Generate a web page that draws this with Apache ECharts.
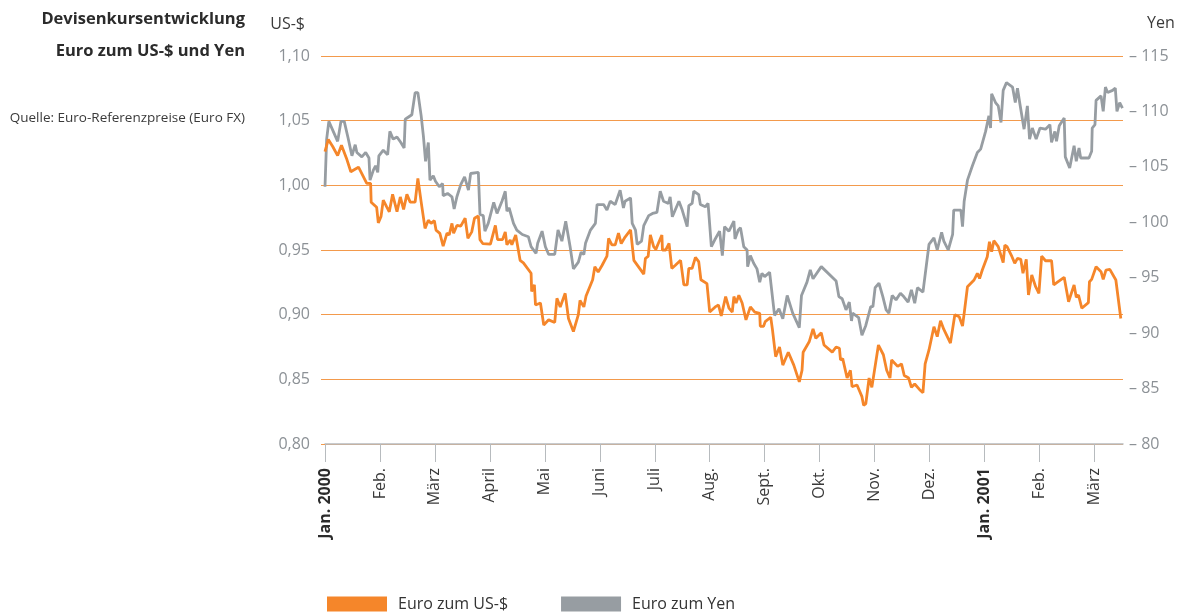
<!DOCTYPE html>
<html style="height: 100%">
<head>
<meta charset="utf-8">
<script src="https://cdn.jsdelivr.net/npm/echarts@6/dist/echarts.min.js"></script>
</head>
<body style="height: 100%; margin: 0; background: #fff;">
<div id="container" style="width: 1187px; height: 614px;"></div>
<script type="text/javascript">
// months since 1 Jan 2000 -> rate
var monthLabels = ['Jan. 2000', 'Feb.', 'März', 'April', 'Mai', 'Juni', 'Juli', 'Aug.', 'Sept.', 'Okt.', 'Nov.', 'Dez.', 'Jan. 2001', 'Feb.', 'März'];
var monthTicks = [0, 1, 2, 3, 4, 5, 6, 7, 8, 9, 10, 11, 12, 13, 14];
var usdTicks = [0.80, 0.85, 0.90, 0.95, 1.00, 1.05, 1.10];
var yenTicks = [80, 85, 90, 95, 100, 105, 110, 115];

var usdPoints = [
    [0.00, 1.026], [0.06, 1.0355], [0.14, 1.030], [0.23, 1.023], [0.30, 1.031], [0.39, 1.021], [0.47, 1.0105],
    [0.53, 1.012], [0.61, 1.014], [0.67, 1.009], [0.76, 1.0015], [0.83, 1.0015], [0.84, 0.987], [0.94, 0.983],
    [0.97, 0.971], [1.02, 0.976], [1.06, 0.9886], [1.12, 0.9835], [1.17, 0.9796], [1.23, 0.993], [1.31, 0.9796],
    [1.37, 0.991], [1.43, 0.9814], [1.49, 0.993], [1.55, 0.987], [1.64, 0.987], [1.69, 1.0054], [1.75, 0.987],
    [1.82, 0.9667], [1.88, 0.973], [1.93, 0.9706], [1.99, 0.9727], [2.02, 0.9654], [2.09, 0.9629], [2.15, 0.953],
    [2.22, 0.963], [2.26, 0.9616], [2.31, 0.9706], [2.34, 0.9629], [2.40, 0.969], [2.47, 0.9685], [2.55, 0.9745],
    [2.60, 0.959], [2.67, 0.964], [2.72, 0.9745], [2.79, 0.9763], [2.82, 0.958], [2.87, 0.955], [3.01, 0.9546],
    [3.10, 0.969], [3.14, 0.958], [3.23, 0.958], [3.28, 0.964], [3.31, 0.954], [3.37, 0.9577], [3.40, 0.954],
    [3.47, 0.9616], [3.55, 0.942], [3.61, 0.940], [3.75, 0.932], [3.76, 0.918], [3.81, 0.923], [3.83, 0.9075],
    [3.92, 0.909], [3.98, 0.892], [4.07, 0.896], [4.18, 0.894], [4.22, 0.9126], [4.28, 0.906], [4.37, 0.9165],
    [4.43, 0.897], [4.52, 0.887], [4.61, 0.900], [4.64, 0.911], [4.71, 0.906], [4.75, 0.9144], [4.87, 0.927],
    [4.91, 0.937], [4.97, 0.933], [5.04, 0.938], [5.13, 0.9453], [5.16, 0.959], [5.22, 0.954], [5.28, 0.954],
    [5.34, 0.963], [5.39, 0.955], [5.46, 0.960], [5.56, 0.9655], [5.62, 0.942], [5.80, 0.9314], [5.83, 0.9435],
    [5.88, 0.945], [5.92, 0.9616], [5.98, 0.9526], [6.02, 0.9505], [6.07, 0.9556], [6.13, 0.9616], [6.14, 0.950],
    [6.20, 0.950], [6.26, 0.9551], [6.31, 0.9358], [6.37, 0.938], [6.47, 0.942], [6.53, 0.923], [6.59, 0.923],
    [6.62, 0.9358], [6.68, 0.9358], [6.74, 0.9443], [6.80, 0.941], [6.84, 0.927], [6.95, 0.924], [7.00, 0.902],
    [7.10, 0.906], [7.16, 0.9075], [7.21, 0.899], [7.29, 0.914], [7.35, 0.905], [7.41, 0.902], [7.44, 0.914],
    [7.48, 0.909], [7.53, 0.915], [7.59, 0.909], [7.66, 0.896], [7.74, 0.906], [7.82, 0.902], [7.91, 0.901],
    [7.92, 0.891], [7.98, 0.891], [8.01, 0.8946], [8.11, 0.898], [8.14, 0.889], [8.20, 0.8675], [8.27, 0.875],
    [8.33, 0.861], [8.43, 0.871], [8.53, 0.861], [8.63, 0.848], [8.68, 0.857], [8.70, 0.871], [8.81, 0.879],
    [8.88, 0.889], [8.93, 0.8817], [9.03, 0.886], [9.08, 0.8765], [9.23, 0.871], [9.30, 0.875], [9.36, 0.874],
    [9.38, 0.865], [9.42, 0.866], [9.50, 0.851], [9.56, 0.857], [9.59, 0.8443], [9.68, 0.8456], [9.77, 0.8366],
    [9.80, 0.830], [9.84, 0.831], [9.90, 0.851], [9.95, 0.8438], [10.07, 0.8765], [10.16, 0.869], [10.22, 0.857],
    [10.28, 0.851], [10.31, 0.865], [10.42, 0.860], [10.49, 0.862], [10.54, 0.853], [10.62, 0.851], [10.67, 0.8438],
    [10.73, 0.8464], [10.82, 0.842], [10.88, 0.8397], [10.92, 0.862], [10.99, 0.8727], [11.08, 0.8907],
    [11.14, 0.883], [11.20, 0.8953], [11.26, 0.8886], [11.38, 0.878], [11.46, 0.900], [11.54, 0.8984],
    [11.60, 0.8912], [11.63, 0.901], [11.69, 0.9216], [11.81, 0.9268], [11.87, 0.932], [11.91, 0.928],
    [11.96, 0.9345], [12.05, 0.9448], [12.09, 0.9564], [12.13, 0.9487], [12.17, 0.9572], [12.25, 0.9526],
    [12.34, 0.9402], [12.37, 0.9538], [12.41, 0.9526], [12.50, 0.9448], [12.55, 0.9397], [12.60, 0.9435],
    [12.66, 0.9428], [12.70, 0.932], [12.76, 0.9428], [12.80, 0.9152], [12.86, 0.9307], [12.93, 0.9216],
    [12.99, 0.9165], [13.04, 0.9453], [13.11, 0.9417], [13.22, 0.9417], [13.26, 0.923], [13.34, 0.9255],
    [13.45, 0.9289], [13.53, 0.910], [13.63, 0.923], [13.67, 0.9134], [13.71, 0.9152], [13.77, 0.905],
    [13.89, 0.9093], [13.91, 0.9255], [13.95, 0.9273], [14.03, 0.937], [14.12, 0.9332], [14.16, 0.9273],
    [14.21, 0.9345], [14.28, 0.935], [14.39, 0.9268], [14.48, 0.897]
];

var yenPoints = [
    [0.00, 103.2], [0.03, 107.5], [0.07, 109.1], [0.15, 108.2], [0.23, 107.3], [0.29, 109.1], [0.35, 109.1],
    [0.42, 107.6], [0.49, 106.0], [0.55, 107.0], [0.58, 106.3], [0.67, 105.9], [0.74, 106.3], [0.80, 105.8],
    [0.82, 103.8], [0.88, 104.7], [0.92, 105.1], [0.96, 104.5], [0.98, 106.0], [1.06, 106.5], [1.14, 106.1],
    [1.18, 108.2], [1.24, 107.5], [1.31, 107.7], [1.38, 107.2], [1.44, 106.7], [1.46, 109.3], [1.52, 109.5],
    [1.58, 109.7], [1.64, 111.7], [1.69, 111.7], [1.75, 109.6], [1.79, 107.8], [1.83, 105.5], [1.88, 107.2],
    [1.91, 103.8], [1.97, 104.2], [2.01, 103.7], [2.08, 103.2], [2.14, 103.5], [2.15, 102.4], [2.23, 102.6],
    [2.31, 102.3], [2.35, 101.2], [2.40, 102.3], [2.47, 103.4], [2.54, 104.1], [2.61, 102.9], [2.65, 104.4],
    [2.79, 104.5], [2.82, 100.7], [2.88, 100.6], [2.91, 99.2], [2.97, 99.9], [3.07, 101.8], [3.13, 100.8],
    [3.22, 101.9], [3.28, 102.8], [3.31, 101.0], [3.35, 101.3], [3.43, 99.9], [3.49, 99.3], [3.59, 98.9],
    [3.70, 98.7], [3.75, 97.8], [3.84, 97.2], [3.87, 98.1], [3.95, 99.2], [4.01, 97.8], [4.07, 97.1],
    [4.18, 97.1], [4.24, 99.3], [4.31, 98.3], [4.38, 100.1], [4.46, 97.8], [4.52, 95.8], [4.61, 96.4],
    [4.66, 97.3], [4.71, 97.1], [4.74, 98.1], [4.83, 99.3], [4.92, 99.9], [4.95, 101.6], [5.07, 101.6],
    [5.13, 101.1], [5.19, 101.9], [5.28, 101.6], [5.37, 102.9], [5.43, 101.3], [5.46, 101.9], [5.56, 102.2],
    [5.59, 99.9], [5.65, 99.3], [5.68, 98.0], [5.76, 98.3], [5.80, 99.7], [5.89, 100.6], [5.96, 100.8],
    [6.04, 100.9], [6.10, 102.8], [6.16, 101.9], [6.25, 101.7], [6.28, 102.3], [6.32, 100.5], [6.44, 101.9],
    [6.50, 101.1], [6.59, 99.6], [6.62, 101.5], [6.68, 101.7], [6.71, 102.8], [6.80, 102.5], [6.83, 101.6],
    [6.92, 101.4], [6.97, 101.7], [7.03, 97.8], [7.09, 98.4], [7.18, 99.2], [7.23, 97.0], [7.27, 99.6],
    [7.35, 99.2], [7.44, 100.1], [7.46, 98.5], [7.52, 99.3], [7.56, 99.5], [7.62, 97.8], [7.68, 97.5],
    [7.69, 96.0], [7.74, 97.0], [7.80, 96.3], [7.86, 95.8], [7.91, 94.6], [7.95, 95.4], [8.00, 95.1],
    [8.09, 95.5], [8.18, 91.6], [8.26, 92.2], [8.33, 91.3], [8.41, 93.4], [8.51, 91.8], [8.63, 90.5],
    [8.67, 93.4], [8.77, 94.6], [8.83, 95.7], [8.88, 94.9], [9.03, 96.0], [9.30, 94.7], [9.35, 93.3],
    [9.41, 93.1], [9.48, 92.1], [9.54, 92.8], [9.58, 91.1], [9.60, 91.8], [9.71, 91.4], [9.77, 89.8],
    [9.84, 90.7], [9.93, 92.4], [9.97, 92.4], [10.01, 94.1], [10.08, 94.5], [10.15, 93.3], [10.21, 92.1],
    [10.26, 91.8], [10.32, 93.4], [10.39, 93.0], [10.47, 93.6], [10.53, 93.3], [10.61, 92.8], [10.67, 93.9],
    [10.73, 92.7], [10.78, 94.1], [10.88, 93.7], [10.99, 98.0], [11.08, 98.6], [11.14, 97.5], [11.22, 99.1],
    [11.26, 98.3], [11.34, 97.5], [11.42, 98.9], [11.44, 101.1], [11.57, 101.1], [11.60, 99.6], [11.63, 101.9],
    [11.69, 103.8], [11.78, 105.1], [11.87, 106.3], [11.93, 106.6], [12.02, 108.2], [12.08, 109.6],
    [12.11, 108.5], [12.13, 111.6], [12.20, 110.8], [12.25, 110.5], [12.30, 109.0], [12.34, 111.9],
    [12.40, 112.6], [12.51, 112.2], [12.56, 110.8], [12.60, 112.1], [12.64, 110.8], [12.72, 108.4],
    [12.78, 110.5], [12.82, 107.5], [12.87, 108.5], [12.94, 107.5], [13.01, 108.5], [13.11, 108.4],
    [13.19, 108.8], [13.22, 107.2], [13.28, 108.2], [13.31, 107.3], [13.36, 108.7], [13.45, 109.4],
    [13.47, 105.9], [13.55, 104.9], [13.63, 106.9], [13.67, 105.5], [13.72, 106.7], [13.75, 105.8],
    [13.90, 105.8], [13.95, 106.4], [13.96, 108.5], [14.01, 108.8], [14.03, 111.0], [14.12, 111.4],
    [14.16, 110.0], [14.20, 112.2], [14.24, 111.7], [14.33, 111.9], [14.38, 112.1], [14.41, 110.0],
    [14.46, 110.8], [14.51, 110.3]
];

var FONT = '"Open Sans", "Noto Sans", sans-serif';
var ORANGE = '#f5862a';
var GREY = '#979da2';

var myChart = echarts.init(document.getElementById('container'), null, {renderer: 'canvas'});

var option = {
    animation: false,
    textStyle: {fontFamily: FONT},
    grid: {left: 325, right: 64, top: 56, bottom: 170},
    graphic: [
        {type: 'text', right: 942, top: 11, style: {text: 'Devisenkursentwicklung', font: 'bold 16.5px ' + FONT, fill: '#2b2b2b', textAlign: 'right'}},
        {type: 'text', right: 942, top: 43, style: {text: 'Euro zum US-$ und Yen', font: 'bold 16.5px ' + FONT, fill: '#2b2b2b', textAlign: 'right'}},
        {type: 'text', right: 942, top: 111, style: {text: 'Quelle: Euro-Referenzpreise (Euro FX)', font: '13.5px ' + FONT, fill: '#3a3a3a', textAlign: 'right'}}
    ],
    legend: {
        left: 327, top: 596, padding: 0,
        icon: 'rect', itemWidth: 60, itemHeight: 15, itemGap: 53,
        textStyle: {fontSize: 16, color: '#333', fontFamily: FONT, padding: [0, 0, 0, 6]},
        data: ['Euro zum US-$', 'Euro zum Yen']
    },
    xAxis: {
        type: 'value',
        min: 0, max: 14.52,
        interval: 1,
        splitLine: {show: false},
        axisLine: {lineStyle: {color: '#b7bbbe', width: 1.5}},
        axisTick: {show: true, length: 18, customValues: monthTicks, lineStyle: {color: '#b7bbbe', width: 1}},
        axisLabel: {
            customValues: monthTicks,
            rotate: 90,
            margin: 24,
            fontSize: 16,
            color: '#3a3a3a',
            formatter: function (v) {
                var s = monthLabels[Math.round(v)];
                if (s && s.indexOf('Jan.') === 0) return '{b|' + s + '}';
                return s || '';
            },
            rich: {b: {fontWeight: 'bold', fontSize: 16, color: '#2b2b2b', fontFamily: FONT}}
        }
    },
    yAxis: [
        {
            type: 'value',
            min: 0.80, max: 1.10, interval: 0.05,
            name: 'US-$',
            nameLocation: 'end',
            nameGap: 24,
            nameTextStyle: {align: 'right', fontSize: 16, color: '#3a3a3a', padding: [0, 20, 0, 0]},
            axisLine: {show: false},
            axisTick: {show: true, length: 4, lineStyle: {color: '#f39a4c'}},
            axisLabel: {
                margin: 15, fontSize: 16, color: '#8c9196',
                customValues: usdTicks,
                formatter: function (v) { return v.toFixed(2).replace('.', ','); }
            },
            splitLine: {show: true, lineStyle: {color: '#f39a4c', width: 1}}
        },
        {
            type: 'value',
            min: 80, max: 115, interval: 5,
            name: 'Yen',
            nameLocation: 'end',
            nameGap: 25,
            nameTextStyle: {align: 'left', fontSize: 16, color: '#3a3a3a', padding: [0, 0, 0, 24]},
            axisLine: {show: false},
            axisTick: {show: false},
            axisLabel: {
                margin: 6, fontSize: 16, color: '#8c9196',
                customValues: yenTicks,
                formatter: function (v) { return '\u2013 ' + v; }
            },
            splitLine: {show: false}
        }
    ],
    series: [
        {
            name: 'Euro zum Yen',
            type: 'line',
            yAxisIndex: 1,
            showSymbol: false,
            color: GREY,
            lineStyle: {width: 2.8, color: GREY},
            data: yenPoints
        },
        {
            name: 'Euro zum US-$',
            type: 'line',
            yAxisIndex: 0,
            showSymbol: false,
            color: ORANGE,
            lineStyle: {width: 2.8, color: ORANGE},
            data: usdPoints
        }
    ]
};

myChart.setOption(option);
</script>
</body>
</html>
